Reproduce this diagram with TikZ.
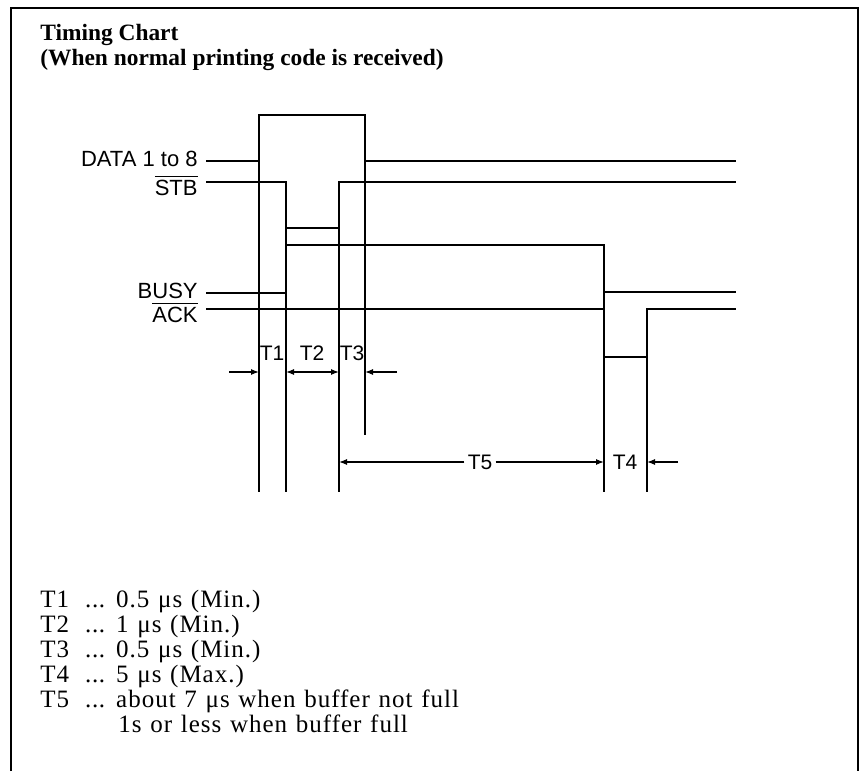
\documentclass[tikz,border=0pt]{standalone}
\usepackage{fontspec}
\setmainfont{Liberation Serif}
\setsansfont{Liberation Sans}
\newfontfamily\legendfont[LetterSpace=4, WordSpace=1.2]{Liberation Serif}
\usetikzlibrary{arrows.meta}
\newcommand{\tdots}{\hspace{8pt}\makebox[10pt][s]{.\hfill.\hfill.}\hspace{5.5pt}}

\begin{document}
\begin{tikzpicture}[x=0.5pt, y=-0.5pt,
  sig/.style={line width=1.3pt},
  guide/.style={line width=0.7pt},
  dim/.style={line width=0.6pt, -{Latex[length=4pt,width=3pt]}},
  lbl/.style={font=\sffamily\fontsize{11}{13}\selectfont, anchor=base east, inner sep=0pt},
  tlbl/.style={font=\sffamily\fontsize{10.5}{12}\selectfont, anchor=base, inner sep=1.5pt},
  head/.style={font=\bfseries\fontsize{11.7}{14}\selectfont, anchor=base west, inner sep=0pt},
  txt/.style={font=\legendfont\fontsize{12.5}{15}\selectfont, anchor=base west, inner sep=0pt}]

\useasboundingbox (0,0) rectangle (866,771);
\draw[line width=1pt] (11,771) -- (11,8) -- (858,8) -- (858,771);

\node[head] (title) at (40,40) {Timing Chart};
\node[head] (cond)  at (40,65) {(When normal printing code is received)};

% signal names
\node[lbl] (data) at (198,166) {DATA 1 to 8};
\node[lbl] (stb)  at (198,195) {$\overline{\hbox{STB}}$};
\node[lbl] (busy) at (198,298) {BUSY};
\node[lbl] (ack)  at (198,322) {$\overline{\hbox{ACK}}$};

% waveforms
\draw[sig] (206,161) -- (259,161) -- (259,115) -- (365,115) -- (365,161) -- (736,161);
\draw[sig] (206,182) -- (286,182) -- (286,228) -- (339,228) -- (339,182) -- (736,182);
\draw[sig] (206,293) -- (286,293) -- (286,245) -- (604,245) -- (604,292) -- (736,292);
\draw[sig] (206,309) -- (604,309) -- (604,357) -- (647,357) -- (647,309) -- (736,309);

% edge guides
\draw[guide] (259,161) -- (259,492);
\draw[guide] (286,182) -- (286,492);
\draw[guide] (339,182) -- (339,492);
\draw[guide] (365,161) -- (365,435);
\draw[guide] (604,292) -- (604,492);
\draw[guide] (647,309) -- (647,492);

% T1 to T3
\node[tlbl] (t1) at (272,360) {T1};
\node[tlbl] (t2) at (312,360) {T2};
\node[tlbl] (t3) at (352,360) {T3};
\coordinate (t1a) at (229,372);
\coordinate (t1b) at (259,372);
\coordinate (t2a) at (286,372);
\coordinate (t2b) at (339,372);
\coordinate (t3a) at (397,372);
\coordinate (t3b) at (365,372);
\draw[dim] (t1a) -- (t1b);
\draw[dim, {Latex[length=4pt,width=3pt]}-{Latex[length=4pt,width=3pt]}] (t2a) -- (t2b);
\draw[dim] (t3a) -- (t3b);

% T5 and T4
\node[tlbl, anchor=center] (t5) at (480,462) {T5};
\node[tlbl, anchor=center] (t4) at (625,462) {T4};
\coordinate (t5a) at (339,462);
\coordinate (t5b) at (604,462);
\coordinate (t4a) at (678,462);
\coordinate (t4b) at (647,462);
\draw[dim] (t5.west) -- (t5a);
\draw[dim] (t5.east) -- (t5b);
\draw[dim] (t4a) -- (t4b);

% legend
\node[txt] (l1) at (40,607) {T1\tdots 0.5 μs (Min.)};
\node[txt] (l2) at (40,632) {T2\tdots 1 μs (Min.)};
\node[txt] (l3) at (40,657) {T3\tdots 0.5 μs (Min.)};
\node[txt] (l4) at (40,682) {T4\tdots 5 μs (Max.)};
\node[txt] (l5) at (40,707) {T5\tdots about 7 μs when buffer not full};
\node[txt] (l6) at (118,732) {1s or less when buffer full};
\end{tikzpicture}
\end{document}
